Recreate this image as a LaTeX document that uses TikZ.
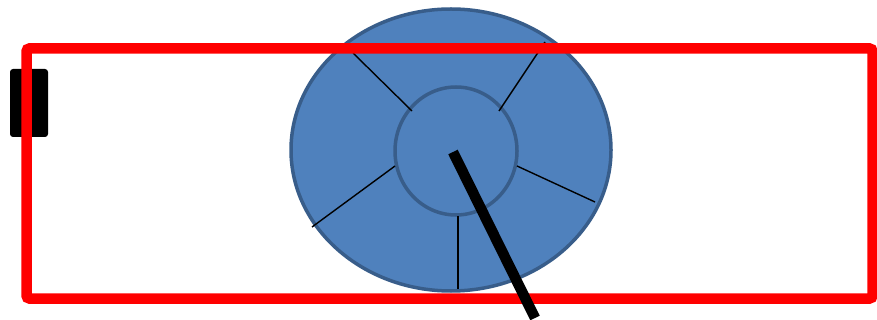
\documentclass[tikz,border=0pt]{standalone}
\definecolor{discfill}{HTML}{4F81BD}
\definecolor{discline}{HTML}{385D8A}
\definecolor{framered}{HTML}{FF0000}
\tikzset{
  disc/.style={fill=discfill,draw=discline,line width=3.5pt},
  spoke/.style={draw=black,line width=1.4pt},
  frame/.style={draw=framered,line width=10.5pt,rounded corners=3pt},
  handle/.style={fill=black,rounded corners=3pt},
  hand/.style={draw=black,line width=10.5pt}
}
\begin{document}
\begin{tikzpicture}[x=1pt,y=-1pt]
\useasboundingbox (0,0) rectangle (877,320);
% small black block (under the frame)
\fill[handle] (10,69) rectangle (48,137);
% outer disc and inner hub
\path[disc] (451,150) ellipse [x radius=160, y radius=141];
\path[disc] (456,151) ellipse [x radius=61, y radius=64];
% spokes
\coordinate (s1a) at (412,111); \coordinate (s1b) at (353,53);
\coordinate (s2a) at (499,111); \coordinate (s2b) at (545,42);
\coordinate (s3a) at (517,166); \coordinate (s3b) at (595,202);
\coordinate (s4a) at (395,166); \coordinate (s4b) at (312,227);
\coordinate (s5a) at (458,216); \coordinate (s5b) at (458,289);
\draw[spoke] (s1a) -- (s1b);
\draw[spoke] (s2a) -- (s2b);
\draw[spoke] (s3a) -- (s3b);
\draw[spoke] (s4a) -- (s4b);
\draw[spoke] (s5a) -- (s5b);
% red frame
\draw[frame] (26.5,48.5) rectangle (872.5,298.5);
% thick hand
\coordinate (h0) at (453,152);
\coordinate (h1) at (535,318);
\draw[hand] (h0) -- (h1);
\end{tikzpicture}
\end{document}
